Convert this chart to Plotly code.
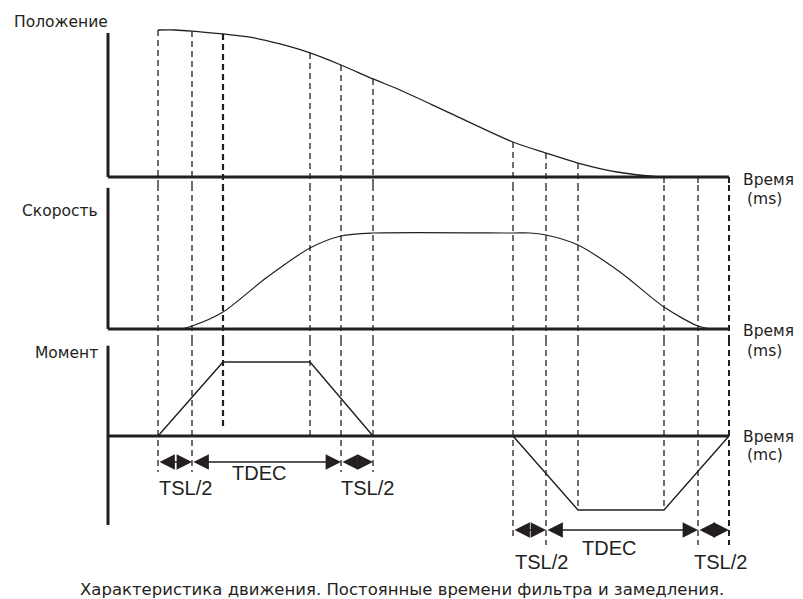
import plotly.graph_objects as go

# ---------------- data ----------------
# moments (ms) marked by dashed guide lines
event_times = [0, 34, 65, 152, 183, 215, 355, 388, 420, 506, 540, 571]

# position (normalised)
pos_t = [0, 17, 34, 65, 92, 122, 152, 183, 215, 242, 292, 355, 388, 420, 459, 502, 571]
pos_v = [1.000, 1.000, 0.993, 0.973, 0.952, 0.905, 0.844, 0.762, 0.667, 0.592,
         0.435, 0.238, 0.163, 0.095, 0.034, 0.0, 0.0]

# speed (normalised)
spd_t = [0, 22, 34, 65, 108, 152, 183, 215, 355, 372, 388, 420, 462, 506, 540, 554, 571]
spd_v = [0.0, 0.0, 0.031, 0.177, 0.531, 0.844, 0.969, 1.0, 1.0, 1.0, 0.979, 0.875,
         0.594, 0.229, 0.031, 0.0, 0.0]

# torque (normalised)
trq_t = [0, 65, 152, 215, 355, 420, 506, 571]
trq_v = [0, 1, 1, 0, 0, -1, -1, 0]

# dimension arrows (start, end) and their labels
arrow_spans = [(0, 34), (34, 183), (183, 215), (355, 388), (388, 540), (540, 571)]
arrow_labels = ["TSL/2", "TDEC", "TSL/2", "TSL/2", "TDEC", "TSL/2"]

panel_titles = ["Положение", "Скорость", "Момент"]
time_labels = [("Время", "(ms)"), ("Время", "(ms)"), ("Время", "(mc)")]
caption = "Характеристика движения. Постоянные времени фильтра и замедления."

# ---------------- layout helpers ----------------
W, H = 803, 599          # window
OFF = 8                  # page body margin
FW, FH = W - OFF, H - OFF
INK = "#231f20"
FONT = "Liberation Sans, Arial, sans-serif"
WIDE = "DejaVu Sans, Verdana, sans-serif"
X0_PX = 158              # window pixel of t = 0
AXIS_T = -50             # time position of vertical axes


def px_x(px):
    return (px - OFF) / FW


def px_y(py):
    return 1 - (py - OFF) / FH


def panel(top_px, bottom_px, zero_px, unit_px):
    dom = [px_y(bottom_px), px_y(top_px)]
    rng = [(zero_px - bottom_px) / unit_px, (zero_px - top_px) / unit_px]
    return dom, rng


pos_dom, pos_rng = panel(20, 185, 177, 147)
spd_dom, spd_rng = panel(185, 340, 329, 96)
trq_dom, trq_rng = panel(340, 585, 436, 74)

fig = go.Figure()

common = dict(mode="lines", hoverinfo="skip", showlegend=False)
fig.add_trace(go.Scatter(x=pos_t, y=pos_v, xaxis="x", yaxis="y",
                         line=dict(color=INK, width=1.3, shape="spline", smoothing=0.8), **common))
fig.add_trace(go.Scatter(x=spd_t, y=spd_v, xaxis="x", yaxis="y2",
                         line=dict(color=INK, width=1.2, shape="spline", smoothing=0.8), **common))
fig.add_trace(go.Scatter(x=trq_t, y=trq_v, xaxis="x", yaxis="y3",
                         line=dict(color=INK, width=1.4), **common))

shapes = []
AX = dict(color=INK, width=3)
t_end = event_times[-1]
# axes
shapes += [
    dict(type="line", xref="x", yref="y", x0=AXIS_T, x1=AXIS_T, y0=0, y1=0.98, line=AX),
    dict(type="line", xref="x", yref="y", x0=AXIS_T, x1=t_end, y0=0, y1=0, line=AX),
    dict(type="line", xref="x", yref="y2", x0=AXIS_T, x1=AXIS_T, y0=0, y1=1.47, line=AX),
    dict(type="line", xref="x", yref="y2", x0=AXIS_T, x1=t_end, y0=0, y1=0, line=AX),
    dict(type="line", xref="x", yref="y3", x0=AXIS_T, x1=AXIS_T, y0=-1.203, y1=1.22, line=AX),
    dict(type="line", xref="x", yref="y3", x0=AXIS_T, x1=t_end, y0=0, y1=0, line=AX),
]

# dashed guides
guide_ends = [-0.486, -0.486, 0.081, 0.0, -0.486, -0.486,
              -1.365, -1.473, -1.0, -1.0, -1.473, -1.473]
guide_w = [1.3, 1.3, 2.2, 1.3, 1.3, 1.3, 1.3, 1.3, 1.3, 1.3, 1.3, 2]


def pos_at(t):
    for i in range(len(pos_t) - 1):
        if pos_t[i] <= t <= pos_t[i + 1]:
            f = (t - pos_t[i]) / (pos_t[i + 1] - pos_t[i])
            return pos_v[i] + f * (pos_v[i + 1] - pos_v[i])
    return pos_v[-1]


for t, e, w in zip(event_times, guide_ends, guide_w):
    ln = dict(color=INK, width=w, dash="6px,4px")
    shapes.append(dict(type="line", xref="x", yref="y", x0=t, x1=t,
                       y0=pos_at(t), y1=pos_rng[0], line=ln, layer="below"))
    shapes.append(dict(type="line", xref="x", yref="y2", x0=t, x1=t,
                       y0=spd_rng[1], y1=spd_rng[0], line=ln, layer="below"))
    shapes.append(dict(type="line", xref="x", yref="y3", x0=t, x1=t,
                       y0=trq_rng[1], y1=e, line=ln, layer="below"))

annotations = []
arrow_rows = [-0.351] * 3 + [-1.27] * 3
label_rows = [-0.703, -0.5, -0.703, -1.703, -1.514, -1.703]
label_shift = [10, -8, 10, 12, -13, 7]
for (a, b), txt, ry, ly, sh in zip(arrow_spans, arrow_labels, arrow_rows, label_rows, label_shift):
    annotations.append(dict(x=b, y=ry, ax=a, ay=ry, xref="x", yref="y3", axref="x", ayref="y3",
                            text="", showarrow=True, arrowside="end+start",
                            arrowhead=2, startarrowhead=2, arrowsize=2.2, startarrowsize=2.2,
                            arrowwidth=1.4, arrowcolor=INK, standoff=0, startstandoff=0))
    annotations.append(dict(x=(a + b) / 2, y=ly, xref="x", yref="y3", text=txt, showarrow=False,
                            xshift=sh, font=dict(family=FONT, size=20, color=INK)))

# panel titles
title_pos = [(61, 22, "center"), (100, 211, "right"), (100, 353, "right")]
for txt, (px, py, anc) in zip(panel_titles, title_pos):
    annotations.append(dict(x=px_x(px), y=px_y(py), xref="paper", yref="paper", text=txt,
                            showarrow=False, xanchor=anc, yanchor="middle",
                            font=dict(family=WIDE, size=15.5, color=INK)))

# time axis labels
time_pos = [(180, 199), (331, 351), (437, 455)]
for (l1, l2), (p1, p2) in zip(time_labels, time_pos):
    annotations.append(dict(x=px_x(741), y=px_y(p1), xref="paper", yref="paper", text=l1,
                            showarrow=False, xanchor="left", yanchor="middle",
                            font=dict(family=WIDE, size=15.5, color=INK)))
    annotations.append(dict(x=px_x(745), y=px_y(p2), xref="paper", yref="paper", text=l2,
                            showarrow=False, xanchor="left", yanchor="middle",
                            font=dict(family=WIDE, size=15.5, color=INK)))

annotations.append(dict(x=px_x(402), y=px_y(589), xref="paper", yref="paper", text=caption,
                        showarrow=False, xanchor="center", yanchor="middle",
                        font=dict(family=WIDE, size=16.5, color=INK)))

hidden = dict(visible=False, fixedrange=True)
fig.update_layout(
    width=FW, height=FH, margin=dict(l=0, r=0, t=0, b=0),
    paper_bgcolor="white", plot_bgcolor="rgba(0,0,0,0)",
    xaxis=dict(domain=[0, 1], range=[OFF - X0_PX, W - X0_PX], **hidden),
    yaxis=dict(domain=pos_dom, range=pos_rng, **hidden),
    yaxis2=dict(domain=spd_dom, range=spd_rng, **hidden),
    yaxis3=dict(domain=trq_dom, range=trq_rng, **hidden),
    shapes=shapes, annotations=annotations, showlegend=False,
)

fig.write_html("out.html", config={"displayModeBar": False})
